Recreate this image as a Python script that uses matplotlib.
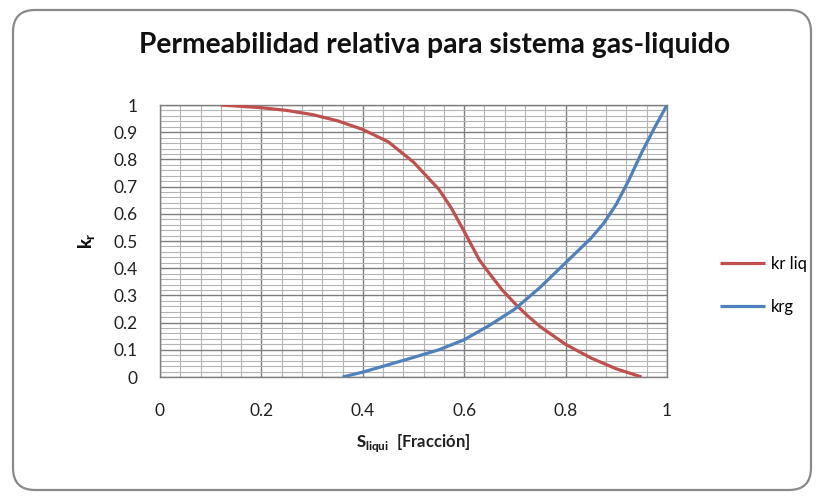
import numpy as np
import matplotlib
matplotlib.use("Agg")
import matplotlib.pyplot as plt
from matplotlib.ticker import MultipleLocator
from matplotlib.patches import FancyBboxPatch
from matplotlib.transforms import IdentityTransform

plt.rcParams['font.family'] = ['Lato', 'DejaVu Sans']
plt.rcParams['mathtext.fontset'] = 'custom'
plt.rcParams['mathtext.rm'] = 'Lato'
plt.rcParams['mathtext.bf'] = 'Lato:weight=black'

# kr liquido
s_liq = [0.12, 0.2, 0.25, 0.3, 0.35, 0.4, 0.45, 0.5, 0.55, 0.575, 0.6, 0.63, 0.65, 0.675,
         0.7, 0.725, 0.75, 0.8, 0.85, 0.9, 0.95]
kr_liq = [1.0, 0.99, 0.98, 0.965, 0.942, 0.91, 0.865, 0.79, 0.69, 0.62, 0.535, 0.43, 0.38, 0.32,
          0.27, 0.225, 0.185, 0.12, 0.07, 0.03, 0.0]

# kr gas
s_gas = [0.36, 0.4, 0.45, 0.5, 0.55, 0.6, 0.65, 0.7, 0.75, 0.775, 0.8, 0.825, 0.85, 0.875,
         0.9, 0.925, 0.95, 0.975, 1.0]
kr_gas = [0.0, 0.018, 0.045, 0.072, 0.10, 0.137, 0.19, 0.25, 0.33, 0.375, 0.42, 0.465, 0.51, 0.565,
          0.635, 0.725, 0.825, 0.915, 1.0]

xticks = [0, 0.2, 0.4, 0.6, 0.8, 1]
yticks = [0, 0.1, 0.2, 0.3, 0.4, 0.5, 0.6, 0.7, 0.8, 0.9, 1]

W, H = 820, 499
fig = plt.figure(figsize=(W / 100, H / 100), dpi=100)
fig.patch.set_facecolor('white')

# borde redondeado del grafico
borde = FancyBboxPatch((13, H - 490), 798, 480, boxstyle="round,pad=0,rounding_size=22",
                       transform=IdentityTransform(), facecolor='none',
                       edgecolor='#8a8a8a', linewidth=1.6, zorder=-1)
fig.patches.append(borde)

ax = fig.add_axes([160 / W, 1 - 377 / H, 507 / W, 272 / H])
ax.set_facecolor('white')

ax.plot(s_liq, kr_liq, color='#C0504D', lw=2.3, label='kr liq', solid_capstyle='butt',
        solid_joinstyle='round', zorder=3)
ax.plot(s_gas, kr_gas, color='#4F81BD', lw=2.3, label='krg', solid_capstyle='butt',
        solid_joinstyle='round', zorder=3)

ax.set_xlim(0, 1)
ax.set_ylim(0, 1)
ax.set_xticks(xticks)
ax.set_xticklabels([f"{t:g}" for t in xticks])
ax.set_yticks(yticks)
ax.set_yticklabels([f"{t:g}" for t in yticks])
ax.xaxis.set_minor_locator(MultipleLocator(0.04))
ax.yaxis.set_minor_locator(MultipleLocator(0.02))
ax.grid(which='major', color='#7f7f7f', lw=1.0)
ax.grid(which='minor', color='#b4b4b4', lw=0.8)
ax.set_axisbelow(True)
ax.tick_params(which='both', length=0)
ax.tick_params(axis='x', pad=19, labelsize=12.5, colors='#222222')
ax.tick_params(axis='y', pad=16, labelsize=12.5, colors='#222222')
for sp in ax.spines.values():
    sp.set_color('#7f7f7f')
    sp.set_linewidth(1.0)

ax.set_xlabel(r"$\mathbf{S}_{\mathbf{liqui}}$  [Fracción]", fontsize=12, fontweight='bold',
              labelpad=9, color='#222222')
ax.set_ylabel(r"$\mathbf{k}_{\mathbf{r}}$", fontsize=13, labelpad=12, color='#111111')

fig.text(435 / W, 1 - 45 / H, "Permeabilidad relativa para sistema gas-liquido",
         fontsize=20.3, fontweight='bold', ha='center', va='center', color='#111111')

ax.legend(loc='center left', bbox_to_anchor=(720 / W, 1 - 285.5 / H), bbox_transform=fig.transFigure,
          frameon=False, fontsize=12, handlelength=2.7, handletextpad=0.35, labelspacing=1.6,
          borderpad=0, borderaxespad=0)

fig.savefig("out.png", dpi=100)
